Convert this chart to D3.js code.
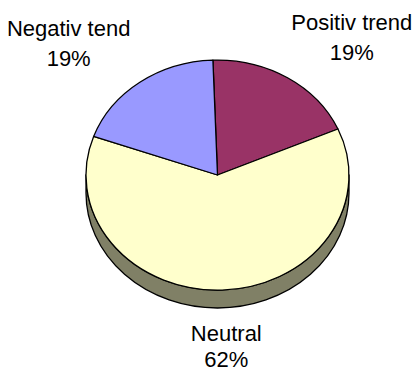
<!DOCTYPE html>
<html>
<head>
<meta charset="utf-8">
<script src="https://cdn.jsdelivr.net/npm/d3@7"></script>
<style>
  html, body { margin: 0; padding: 0; background: #fff; }
  svg { display: block; }
  text { font-family: "Liberation Sans", Arial, sans-serif; font-size: 22px; fill: #000; }
</style>
</head>
<body>
<svg id="chart" width="420" height="373"></svg>
<script>
// Share of trends (percent), clockwise from 12 o'clock
const categories = ["Positiv trend", "Neutral", "Negativ tend"];
const values = [19, 62, 19];
const topColors = ["#993366", "#FFFFCC", "#9999FF"];
const sideColors = ["#4d1a33", "#808066", "#4d4d80"];

const W = 420, H = 373;
const cx = 217.5, cy = 175;   // centre of the top face
const rx = 131.5, ry = 115;   // ellipse radii of the tilted disc
const depth = 18;             // thickness of the disc
const startDeg = -2;

const svg = d3.select("#chart");

const pie = d3.pie()
  .sort(null)
  .value(d => d.value)
  .startAngle(startDeg * Math.PI / 180)
  .endAngle((startDeg + 360) * Math.PI / 180);

const data = pie(categories.map((c, i) => ({ name: c, value: values[i], i })));

const color = d3.scaleOrdinal().domain(categories).range(topColors);
const sideColor = d3.scaleOrdinal().domain(categories).range(sideColors);

// point on the ellipse for angle a (clockwise from top)
const pt = (a, dy = 0) => [cx + rx * Math.sin(a), cy - ry * Math.cos(a) + dy];

// side walls: only the front half (pi/2 .. 3pi/2) faces the viewer
const sides = svg.append("g");
data.forEach(d => {
  const a0 = Math.max(d.startAngle, Math.PI / 2);
  const a1 = Math.min(d.endAngle, 3 * Math.PI / 2);
  if (a1 <= a0) return;
  const p0 = pt(a0), p1 = pt(a1), q1 = pt(a1, depth), q0 = pt(a0, depth);
  const path = `M${p0}A${rx},${ry} 0 0 1 ${p1}L${q1}A${rx},${ry} 0 0 0 ${q0}Z`;
  sides.append("path")
    .attr("d", path)
    .attr("fill", sideColor(d.data.name))
    .attr("stroke", "#000")
    .attr("stroke-width", 1.3)
    .attr("stroke-linejoin", "round");
});

// top faces: unit arcs squashed into the ellipse
const arc = d3.arc().innerRadius(0).outerRadius(1);
svg.append("g")
  .attr("transform", `translate(${cx},${cy}) scale(${rx},${ry})`)
  .selectAll("path")
  .data(data)
  .join("path")
  .attr("d", arc)
  .attr("fill", d => color(d.data.name))
  .attr("stroke", "#000")
  .attr("stroke-width", 1.3)
  .attr("vector-effect", "non-scaling-stroke")
  .attr("stroke-linejoin", "round");

// outside labels with category name and percent
const total = d3.sum(values);
const lrx = 252, lry = 154, lineGap = 30;
const labels = svg.append("g");
data.forEach(d => {
  const mid = (d.startAngle + d.endAngle) / 2;
  const x = cx + lrx * Math.sin(mid);
  let y = cy - lry * Math.cos(mid);
  const below = Math.cos(mid) < 0;
  if (below) y += depth + 7;
  const gap = below ? lineGap - 4 : lineGap;
  const t = labels.append("text").attr("text-anchor", "middle");
  t.append("tspan").attr("x", x).attr("y", y - gap / 2).text(d.data.name);
  t.append("tspan").attr("x", x).attr("y", y + gap / 2)
    .text(Math.round(d.data.value / total * 100) + "%");
});
</script>
</body>
</html>
